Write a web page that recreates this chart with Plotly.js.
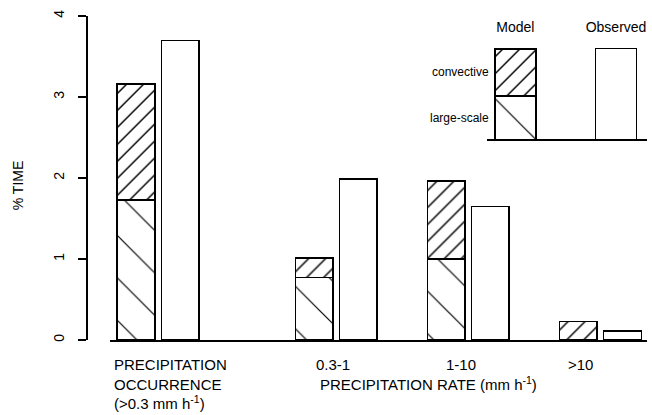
<!DOCTYPE html>
<html>
<head>
<meta charset="utf-8">
<script src="https://cdn.plot.ly/plotly-3.0.1.min.js"></script>
<style>html,body{margin:0;padding:0;background:#fff;}#chart{width:652px;height:415px;}</style>
</head>
<body>
<div id="chart"></div>
<script>
// ---- data ----
const categories = ['PRECIPITATION<br>OCCURRENCE<br>(&gt;0.3 mm h<sup>-1</sup>)', '0.3-1', '1-10', '&gt;10'];
const modelLargeScale = [1.73, 0.77, 1.00, 0.00];
const modelConvective = [1.43, 0.24, 0.96, 0.23];
const observed = [3.70, 1.99, 1.65, 0.11];
const yTicks = [0, 1, 2, 3, 4];
const xTitle = 'PRECIPITATION RATE (mm h<sup>-1</sup>)';
const yTitle = '% TIME';

// inset key (sample bars)
const keyNames = ['Model', 'Observed'];
const keyLargeScale = [0.48];
const keyConvective = [0.51];
const keyObserved = [1.0];
const keyLabels = ['large-scale', 'convective'];

// ---- layout constants ----
const groupPos = [0, 1.35, 2.35, 3.35];
const obsOffset = 0.335;
const barW = 0.285;
const labelX = [-0.182, 1.492, 2.462, 3.371];
const FONT = 'Liberation Sans, Arial, Helvetica, sans-serif';

const hatchConv = {shape: '/', size: 12, solidity: 0.12, fgcolor: 'black', bgcolor: 'white', fillmode: 'replace'};
const hatchLarge = {shape: '\\', size: 30, solidity: 0.04, fgcolor: 'black', bgcolor: 'white', fillmode: 'replace'};
const outline = {color: 'black', width: 1.5};

const obsX = groupPos.map(v => v + obsOffset);

const traces = [
  {type: 'bar', x: groupPos, y: modelLargeScale, width: barW, xaxis: 'x', yaxis: 'y',
   marker: {color: 'white', line: outline, pattern: hatchLarge}, hoverinfo: 'skip'},
  {type: 'bar', x: groupPos, y: modelConvective, width: barW, xaxis: 'x', yaxis: 'y',
   marker: {color: 'white', line: outline, pattern: hatchConv}, hoverinfo: 'skip'},
  {type: 'bar', x: obsX, y: observed, width: barW, xaxis: 'x', yaxis: 'y',
   marker: {color: 'white', line: outline}, hoverinfo: 'skip'},
  // key
  {type: 'bar', x: [keyNames[0]], y: keyLargeScale, width: 0.41, xaxis: 'x2', yaxis: 'y2',
   marker: {color: 'white', line: outline, pattern: hatchLarge}, hoverinfo: 'skip'},
  {type: 'bar', x: [keyNames[0]], y: keyConvective, width: 0.41, xaxis: 'x2', yaxis: 'y2',
   marker: {color: 'white', line: outline, pattern: hatchConv}, hoverinfo: 'skip'},
  {type: 'bar', x: [keyNames[1]], y: keyObserved, width: 0.41, xaxis: 'x2', yaxis: 'y2',
   marker: {color: 'white', line: outline}, hoverinfo: 'skip'}
];

const annotations = [];
categories.forEach((c, i) => {
  annotations.push({
    text: c, xref: 'x', yref: 'paper', x: labelX[i], y: 0,
    xanchor: i === 0 ? 'left' : 'center', yanchor: 'top', align: 'left',
    yshift: -14, showarrow: false, font: {family: FONT, size: 15, color: 'black'}
  });
});
annotations.push({
  text: xTitle, xref: 'x', yref: 'paper', x: 1.379, y: 0, xanchor: 'left', yanchor: 'top',
  yshift: -32, showarrow: false, font: {family: FONT, size: 15, color: 'black'}
});
annotations.push({
  text: yTitle, xref: 'paper', yref: 'paper', x: -0.123, y: 0.478, xanchor: 'center', yanchor: 'middle',
  textangle: -90, showarrow: false, font: {family: FONT, size: 14, color: 'black'}
});
// key labels
const keyMid = [keyLargeScale[0] / 2, keyLargeScale[0] + keyConvective[0] / 2];
keyLabels.forEach((t, i) => {
  annotations.push({
    text: t, xref: 'x2', yref: 'y2', x: -0.205, y: keyMid[i], xanchor: 'right', yanchor: 'middle',
    xshift: -4, showarrow: false, font: {family: FONT, size: 12, color: 'black'}
  });
});

const layout = {
  width: 652, height: 415,
  margin: {l: 87, r: 5, t: 16, b: 75, pad: 0},
  paper_bgcolor: 'white', plot_bgcolor: 'rgba(0,0,0,0)',
  showlegend: false, barmode: 'stack',
  font: {family: FONT, size: 14, color: 'black'},
  xaxis: {domain: [0.041, 1], range: [-0.197, 3.871], showline: true, linecolor: 'black', linewidth: 1.5,
          showticklabels: false, ticks: '', showgrid: false, zeroline: false, fixedrange: true},
  yaxis: {range: [0, 4], anchor: 'free', position: 0, showline: true, linecolor: 'black', linewidth: 2,
          ticks: 'outside', ticklen: 8, tickwidth: 1.5, tickcolor: 'black', tickvals: yTicks,
          tickangle: -90, ticklabelstandoff: 8, tickfont: {family: FONT, size: 14},
          showgrid: false, zeroline: false, automargin: false},
  xaxis2: {domain: [0.714, 1.0], anchor: 'y2', type: 'category', range: [-0.284, 1.308], side: 'top',
           showline: false, ticks: '', showgrid: false, zeroline: false, ticklabelstandoff: 12,
           tickfont: {family: FONT, size: 14}},
  yaxis2: {domain: [0.6116, 0.9012], anchor: 'x2', range: [-0.02, 1], showline: false,
           showticklabels: false, ticks: '', showgrid: false, zeroline: true, zerolinecolor: 'black',
           zerolinewidth: 1.5},
  annotations: annotations
};

Plotly.newPlot('chart', traces, layout, {staticPlot: true, displayModeBar: false});
</script>
</body>
</html>
